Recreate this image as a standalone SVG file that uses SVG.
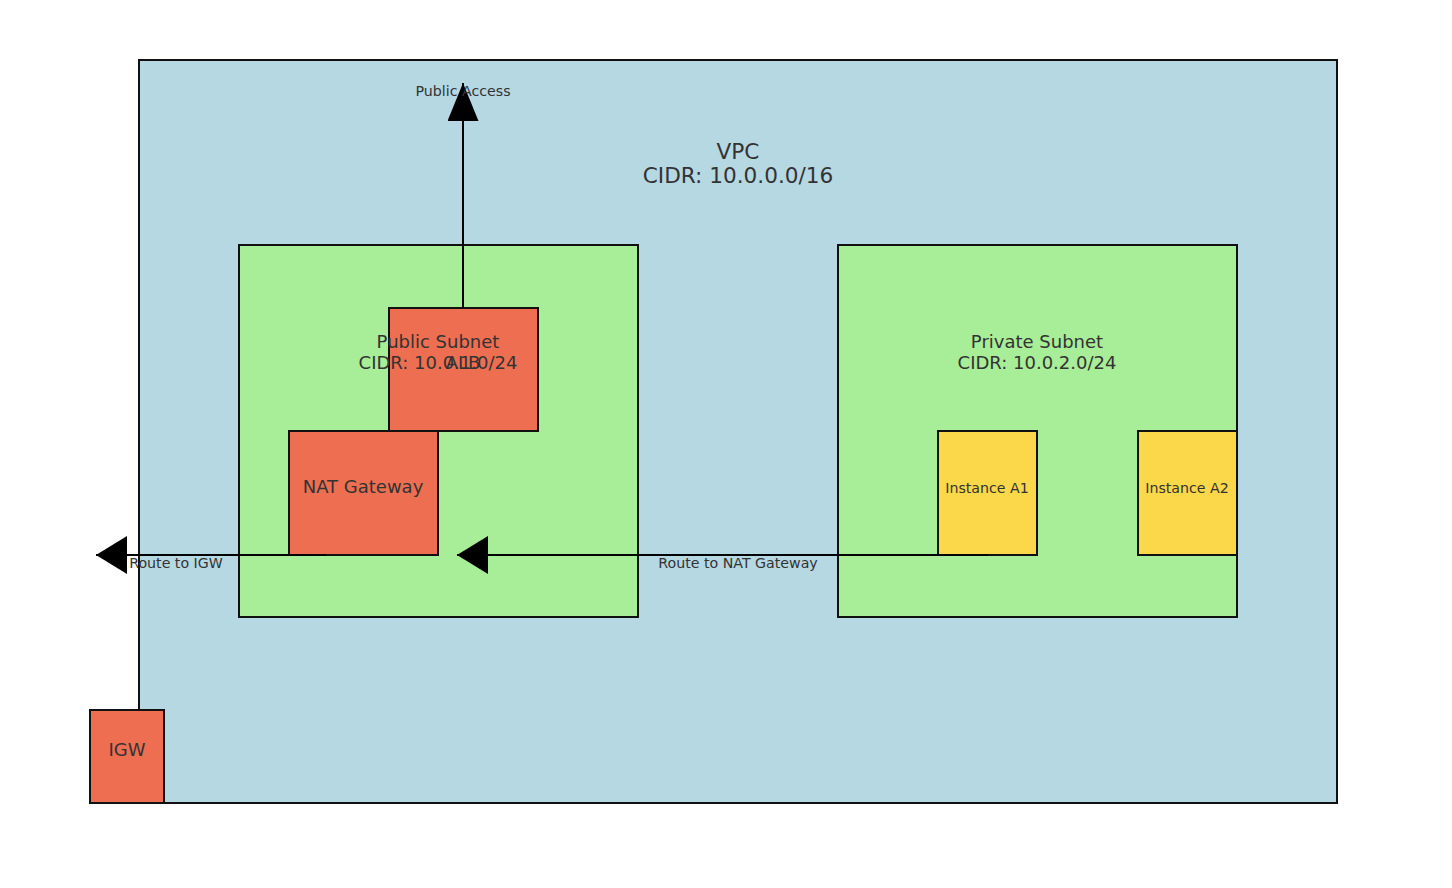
<svg xmlns="http://www.w3.org/2000/svg" width="1452" height="888" viewBox="0 0 1452 888">
<defs>
<style>
.box{stroke:#111;stroke-width:2}
.vpc{fill:#b6d8e3}
.sub{fill:#a8ed97}
.red{fill:#ee6e52}
.yel{fill:#fad84a}
text{font-family:"DejaVu Sans",sans-serif;fill:#333;text-anchor:middle}
.edge{stroke:#000;stroke-width:2;fill:none}
</style>
<marker id="arr" viewBox="0 0 31 38" refX="31" refY="19" markerWidth="31" markerHeight="38" markerUnits="userSpaceOnUse" orient="auto">
<path d="M0,0 L31,19 L0,38 z" fill="#000"/>
</marker>
<marker id="arrv" viewBox="0 0 38 31" refX="38" refY="15.5" markerWidth="38" markerHeight="31" markerUnits="userSpaceOnUse" orient="auto">
<path d="M0,0 L38,15.5 L0,31 z" fill="#000"/>
</marker>
</defs>
<rect width="1452" height="888" fill="#fff"/>
<g id="vpc"><rect class="box vpc" x="139" y="60" width="1198" height="743"/></g>
<g id="public-subnet"><rect class="box sub" x="239" y="245" width="399" height="372"/></g>
<g id="private-subnet"><rect class="box sub" x="838" y="245" width="399" height="372"/></g>
<g id="alb"><rect class="box red" x="389" y="308" width="149" height="123"/></g>
<g id="nat"><rect class="box red" x="289" y="431" width="149" height="124"/></g>
<g id="instance-a1"><rect class="box yel" x="938" y="431" width="99" height="124"/></g>
<g id="instance-a2"><rect class="box yel" x="1138" y="431" width="99" height="124"/></g>
<g id="igw"><rect class="box red" x="90" y="710" width="74" height="93"/></g>
<g id="connectors">
<line class="edge" x1="326" y1="555" x2="96" y2="555" marker-end="url(#arr)"/>
<line class="edge" x1="988" y1="555" x2="457" y2="555" marker-end="url(#arr)"/>
<line class="edge" x1="463" y1="308" x2="463" y2="83" marker-end="url(#arrv)"/>
</g>
<g id="labels">
<text x="738" y="159" font-size="21.6">VPC</text>
<text x="738" y="183" font-size="21.6">CIDR: 10.0.0.0/16</text>
<text x="438" y="348" font-size="18">Public Subnet</text>
<text x="438" y="369" font-size="18">CIDR: 10.0.1.0/24</text>
<text x="1037" y="348" font-size="18">Private Subnet</text>
<text x="1037" y="369" font-size="18">CIDR: 10.0.2.0/24</text>
<text x="463" y="369" font-size="18">ALB</text>
<text x="363" y="493" font-size="18">NAT Gateway</text>
<text x="987" y="493" font-size="14.2">Instance A1</text>
<text x="1187" y="493" font-size="14.2">Instance A2</text>
<text x="127" y="756" font-size="18">IGW</text>
<text x="176" y="568" font-size="14.2">Route to IGW</text>
<text x="738" y="568" font-size="14.2">Route to NAT Gateway</text>
<text x="463" y="96" font-size="14.2">Public Access</text>
</g>
</svg>
